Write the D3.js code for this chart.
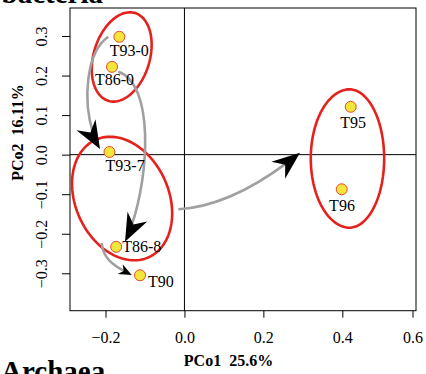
<!DOCTYPE html>
<html>
<head>
<meta charset="utf-8">
<script src="https://cdn.jsdelivr.net/npm/d3@7"></script>
<style>
  html, body { margin: 0; padding: 0; background: #fff; }
  svg { display: block; }
  svg text { font-family: "Liberation Serif", "Times New Roman", serif; }
</style>
</head>
<body>
<div id="chart"></div>
<script>
// samples (PCo1, PCo2)
const sampleNames = ["T93-0", "T86-0", "T93-7", "T86-8", "T90", "T95", "T96"];
const pco1 = [-0.165, -0.1835, -0.190, -0.173, -0.1126, 0.424, 0.3985];
const pco2 = [0.298, 0.222, 0.0067, -0.233, -0.305, 0.121, -0.0876];

// label placement next to each point: [anchor, dx, dy]
const labelPlace = [
  ["middle", 10, 19.5], ["middle", 2.5, 18.3], ["middle", 15.7, 18.7],
  ["start", 6, 5], ["start", 8, 12], ["middle", 2.3, 21.3], ["middle", 0.3, 21.4]
];

// group ellipses (data units): centre, semi-major, semi-minor, tilt of major axis (deg, clockwise from vertical)
const groupCx = [-0.159, -0.158, 0.4197];
const groupCy = [0.247, -0.111, -0.0097];
const groupA = [0.116, 0.163, 0.175];
const groupB = [0.071, 0.118, 0.0996];
const groupTilt = [17, -24.5, 0];

// succession arrows: cubic curve start, control1, control2, end (data units)
const arrowCurves = [
  [[-0.193, 0.298], [-0.2595, 0.252], [-0.2595, 0.0927], [-0.214, 0.0143]],
  [[-0.1676, 0.2097], [-0.067, 0.176], [-0.0923, -0.102], [-0.1506, -0.220]],
  [[-0.2096, -0.2234], [-0.2063, -0.2664], [-0.1734, -0.284], [-0.1336, -0.3043]],
  [[-0.0155, -0.138], [0.0901, -0.132], [0.1914, -0.0767], [0.2928, 0.0049]]
];
const arrowHead = ["big", "big", "small", "big"];

const xTicks = [-0.2, 0.0, 0.2, 0.4, 0.6];
const yTicks = [-0.3, -0.2, -0.1, 0.0, 0.1, 0.2, 0.3];
const xTitle = "PCo1  25.6%";
const yTitle = "PCo2  16.11%";

const width = 426, height = 374;
const box = { left: 70, top: 8, right: 416, bottom: 310.7 };
const serif = "'Liberation Serif', 'Times New Roman', serif";

const svg = d3.select("#chart").append("svg")
  .attr("width", width)
  .attr("height", height);

// the printed axis is not quite uniform past 0.4, so use a polylinear scale
const x = d3.scaleLinear().domain([-0.29, 0.4, 0.61]).range([box.left, 342.3, box.right]);
const y = d3.scaleLinear().domain([-0.3946, 0.3708]).range([box.bottom, box.top]);

// zero lines
svg.append("line")
  .attr("x1", box.left).attr("x2", box.right)
  .attr("y1", y(0)).attr("y2", y(0))
  .attr("stroke", "#000").attr("stroke-width", 1);
svg.append("line")
  .attr("x1", x(0)).attr("x2", x(0))
  .attr("y1", box.top).attr("y2", box.bottom)
  .attr("stroke", "#000").attr("stroke-width", 1);

// box
svg.append("rect")
  .attr("x", box.left).attr("y", box.top)
  .attr("width", box.right - box.left).attr("height", box.bottom - box.top)
  .attr("fill", "none").attr("stroke", "#000").attr("stroke-width", 1);

// x axis
const xAxis = svg.append("g")
  .attr("transform", `translate(0,${box.bottom})`)
  .call(d3.axisBottom(x).tickValues(xTicks).tickSize(7).tickFormat(d3.format(".1f")));
xAxis.attr("font-family", serif).attr("font-size", 16);
xAxis.select(".domain").remove();
xAxis.selectAll("line").attr("stroke", "#000");
xAxis.selectAll("text")
  .attr("y", 32.3).attr("dy", null)
  .attr("fill", "#000");

// y axis (rotated labels like base R)
const yAxis = svg.append("g")
  .attr("transform", `translate(${box.left},0)`)
  .call(d3.axisLeft(y).tickValues(yTicks).tickSize(8).tickFormat(d3.format(".1f")));
yAxis.attr("font-family", serif).attr("font-size", 16);
yAxis.select(".domain").remove();
yAxis.selectAll("line").attr("stroke", "#000");
yAxis.selectAll("text")
  .attr("x", null).attr("dy", null)
  .attr("text-anchor", "middle")
  .attr("transform", "translate(-23.3,0) rotate(-90)")
  .attr("fill", "#000");

// axis titles
svg.append("text")
  .attr("x", 228.5).attr("y", 366)
  .attr("text-anchor", "middle")
  .attr("font-weight", "bold")
  .attr("font-size", 16)
  .style("white-space", "pre")
  .text(xTitle);
svg.append("text")
  .attr("transform", "translate(23.3,132.5) rotate(-90)")
  .attr("text-anchor", "middle")
  .attr("font-weight", "bold")
  .attr("font-size", 16)
  .style("white-space", "pre")
  .text(yTitle);

// ellipses
const ellipseLine = d3.line().x(d => x(d[0])).y(d => y(d[1])).curve(d3.curveLinearClosed);
groupCx.forEach((cx, i) => {
  const th = groupTilt[i] * Math.PI / 180;
  const u = [Math.sin(th), Math.cos(th)];
  const v = [Math.cos(th), -Math.sin(th)];
  const pts = d3.range(120).map(k => {
    const t = k / 120 * 2 * Math.PI;
    return [
      cx + groupA[i] * Math.cos(t) * u[0] + groupB[i] * Math.sin(t) * v[0],
      groupCy[i] + groupA[i] * Math.cos(t) * u[1] + groupB[i] * Math.sin(t) * v[1]
    ];
  });
  svg.append("path")
    .attr("d", ellipseLine(pts))
    .attr("fill", "none")
    .attr("stroke", "#e4211c")
    .attr("stroke-width", 2.6);
});

// arrows
const headShape = { big: { L: 28, W: 11, N: 19 }, small: { L: 13, W: 5.5, N: 9 } };
arrowCurves.forEach((c, i) => {
  const p = c.map(d => [x(d[0]), y(d[1])]);
  const path = svg.append("path")
    .attr("d", `M${p[0]}C${p[1]} ${p[2]} ${p[3]}`)
    .attr("fill", "none")
    .attr("stroke", "#a0a0a0")
    .attr("stroke-width", 2.6);
  const hs = headShape[arrowHead[i]];
  const len = path.node().getTotalLength();
  path.attr("stroke-dasharray", `${len - hs.N + 2} ${len}`);
  const ang = Math.atan2(p[3][1] - p[2][1], p[3][0] - p[2][0]) * 180 / Math.PI;
  svg.append("path")
    .attr("d", `M0,0L${-hs.L},${-hs.W}L${-hs.N},0L${-hs.L},${hs.W}Z`)
    .attr("transform", `translate(${p[3]}) rotate(${ang})`)
    .attr("fill", "#000");
});

// points
svg.append("g").selectAll("circle")
  .data(sampleNames)
  .join("circle")
  .attr("cx", (d, i) => x(pco1[i]))
  .attr("cy", (d, i) => y(pco2[i]))
  .attr("r", 5.5)
  .attr("fill", "#f3e63a")
  .attr("stroke", "#e8482c")
  .attr("stroke-width", 1);

svg.append("g").selectAll("text")
  .data(sampleNames)
  .join("text")
  .attr("x", (d, i) => x(pco1[i]) + labelPlace[i][1])
  .attr("y", (d, i) => y(pco2[i]) + labelPlace[i][2])
  .attr("text-anchor", (d, i) => labelPlace[i][0])
  .attr("font-size", 16)
  .attr("fill", "#000")
  .text(d => d);

// panel titles, cut by the figure edges as in the source figure
svg.append("text")
  .attr("x", 1.5).attr("y", 3)
  .attr("font-weight", "bold").attr("font-size", 29)
  .text("bacteria");
svg.append("text")
  .attr("x", 1).attr("y", 381)
  .attr("font-weight", "bold").attr("font-size", 29)
  .text("Archaea");
</script>
</body>
</html>
